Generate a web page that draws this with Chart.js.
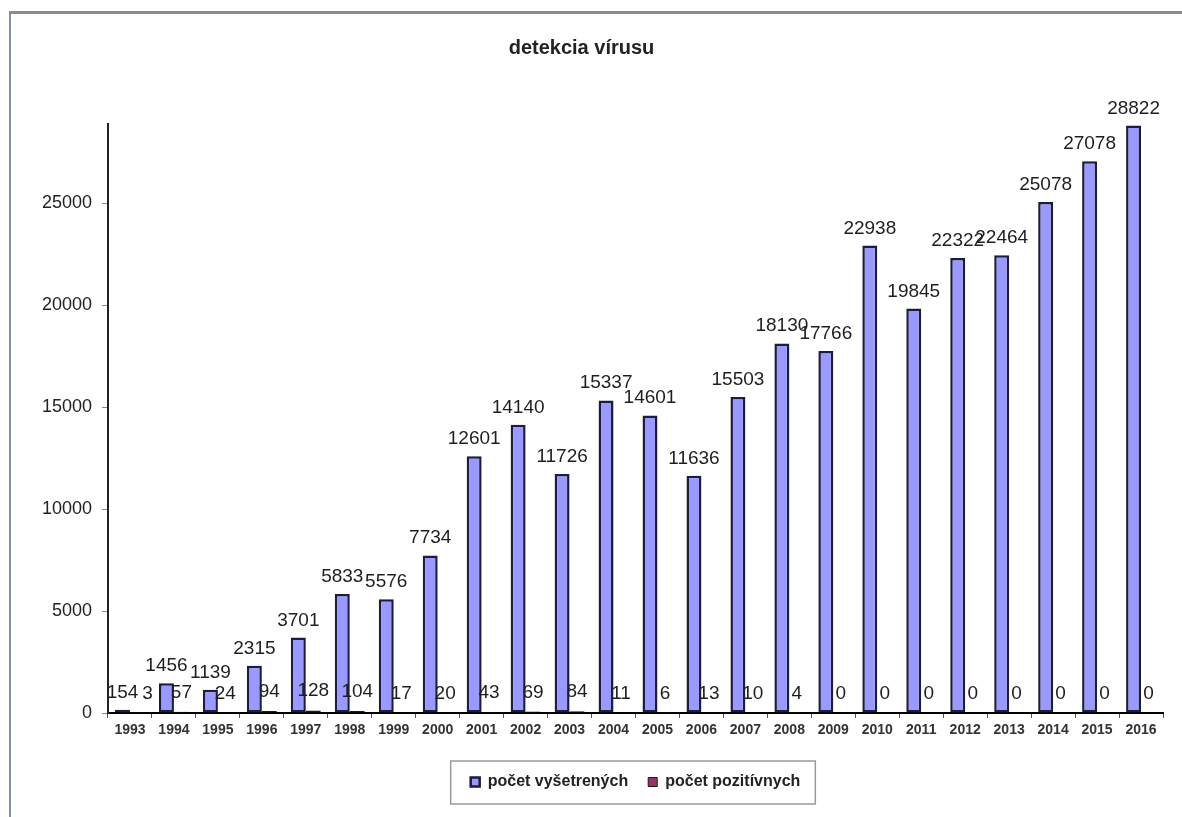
<!DOCTYPE html>
<html>
<head>
<meta charset="utf-8">
<script src="https://cdn.jsdelivr.net/npm/chart.js@4.4.1/dist/chart.umd.min.js"></script>
<style>
  html, body { margin: 0; padding: 0; background: #fff; }
  #wrap { position: relative; width: 1182px; height: 817px; overflow: hidden; }
  #frame { position: absolute; left: 9px; top: 11px; width: 1200px; height: 820px;
           border-left: 2px solid #8391a6; border-top: 3px solid #8c8c8c; box-sizing: border-box; }
  canvas { position: absolute; left: 0; top: 0; }
</style>
</head>
<body>
<div id="wrap">
  <div id="frame"></div>
  <canvas id="c" width="1182" height="817"></canvas>
</div>
<script>
const years = ['1993','1994','1995','1996','1997','1998','1999','2000','2001','2002','2003','2004',
               '2005','2006','2007','2008','2009','2010','2011','2012','2013','2014','2015','2016'];
const vysetrenych = [154,1456,1139,2315,3701,5833,5576,7734,12601,14140,11726,15337,
                     14601,11636,15503,18130,17766,22938,19845,22322,22464,25078,27078,28822];
const pozitivnych = [3,57,24,94,128,104,17,20,43,69,84,11,
                     6,13,10,4,0,0,0,0,0,0,0,0];
const yTickValues = [0,5000,10000,15000,20000,25000];
const seriesNames = ['počet vyšetrených','počet pozitívnych'];
const chartTitle = 'detekcia vírusu';

const FONT = "'Liberation Sans', Arial, sans-serif";

const valueLabels = {
  id: 'valueLabels',
  afterDatasetsDraw(chart) {
    const ctx = chart.ctx;
    ctx.save();
    ctx.font = '19px ' + FONT;
    ctx.fillStyle = '#1e1e1e';
    ctx.textAlign = 'center';
    ctx.textBaseline = 'alphabetic';
    const m0 = chart.getDatasetMeta(0), m1 = chart.getDatasetMeta(1);
    const d0 = chart.data.datasets[0].data, d1 = chart.data.datasets[1].data;
    m0.data.forEach((el, i) => {
      const a = el, b = m1.data[i];
      const ya = a.y - 12, yb = b.y - 14;
      const ta = String(d0[i]), tb = String(d1[i]);
      ctx.fillText(ta, a.x, ya);
      let xb = b.x;
      const wa = ctx.measureText(ta).width, wb = ctx.measureText(tb).width;
      const overlap = (a.x + wa / 2 + 4) - (xb - wb / 2);
      if (Math.abs(ya - yb) < 16 && overlap > 0) xb += overlap;
      ctx.fillText(tb, xb, yb);
    });
    ctx.restore();
  }
};

const legendFrame = {
  id: 'legendFrame',
  afterDraw(chart) {
    const lg = chart.legend;
    if (!lg || !lg.legendHitBoxes || !lg.legendHitBoxes.length) return;
    let l = Infinity, r = -Infinity, t = Infinity, b = -Infinity;
    lg.legendHitBoxes.forEach(h => {
      l = Math.min(l, h.left); r = Math.max(r, h.left + h.width);
      t = Math.min(t, h.top); b = Math.max(b, h.top + h.height);
    });
    const ctx = chart.ctx;
    ctx.save();
    ctx.strokeStyle = '#9a9a9a';
    ctx.lineWidth = 1.5;
    ctx.strokeRect(l - 20, t - 13, (r - l) + 35, (b - t) + 27);
    ctx.restore();
  }
};

new Chart(document.getElementById('c'), {
  type: 'bar',
  data: {
    labels: years,
    datasets: [
      { label: seriesNames[0], data: vysetrenych, backgroundColor: '#9999ff',
        borderColor: '#1c1c3c', borderWidth: 2.5, borderSkipped: false,
        categoryPercentage: 0.68, barPercentage: 1.0 },
      { label: seriesNames[1], data: pozitivnych, backgroundColor: '#993366',
        borderColor: '#1a1a1a', borderWidth: 1, borderSkipped: false,
        categoryPercentage: 0.68, barPercentage: 1.0 }
    ]
  },
  options: {
    responsive: false,
    animation: false,
    devicePixelRatio: 1,
    layout: { padding: { left: 0, right: 19, top: 0, bottom: 17 } },
    plugins: {
      title: {
        display: true, text: chartTitle, color: '#222',
        font: { family: FONT, size: 20, weight: 'bold' },
        padding: { top: 36, bottom: 64 }
      },
      legend: {
        position: 'bottom', fullSize: false,
        labels: {
          color: '#222', boxWidth: 9, boxHeight: 9, padding: 20,
          font: { family: FONT, size: 16, weight: 'bold' }
        }
      },
      tooltip: { enabled: false }
    },
    scales: {
      x: {
        offset: true,
        grid: { display: true, offset: true, drawOnChartArea: false, drawTicks: true,
                tickLength: 5, color: '#555', lineWidth: 1 },
        border: { display: true, color: '#000', width: 2 },
        ticks: { color: '#333', padding: 4, maxRotation: 0, autoSkip: false,
                 font: { family: FONT, size: 14, weight: 'bold' } },
        afterFit(scale) { scale.height = 41; }
      },
      y: {
        min: 0, max: 28900,
        grid: { display: true, drawOnChartArea: false, drawTicks: true, tickLength: 6,
                color: '#888', lineWidth: 1 },
        border: { display: true, color: '#222', width: 2 },
        ticks: { stepSize: 5000, color: '#222', padding: 10,
                 font: { family: FONT, size: 18 },
                 callback: v => String(v) },
        afterBuildTicks(scale) {
          scale.ticks = yTickValues.map(v => ({ value: v }));
        },
        afterFit(scale) { scale.width = 108; }
      }
    }
  },
  plugins: [valueLabels, legendFrame]
});
</script>
</body>
</html>
